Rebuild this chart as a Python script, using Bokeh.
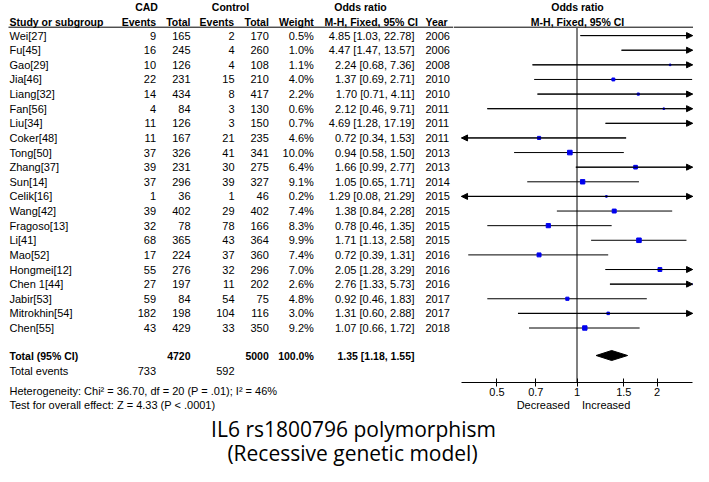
import math
from bokeh.plotting import figure
from bokeh.layouts import row, column
from bokeh.models import (Range1d, LogScale, LogAxis, FixedTicker, CustomJSTickFormatter,
                          ColumnDataSource, Arrow, NormalHead, Title)
from bokeh.core.properties import value
from bokeh.embed import file_html
from bokeh.resources import INLINE

# ---------------- data ----------------
studies = ["Wei[27]", "Fu[45]", "Gao[29]", "Jia[46]", "Liang[32]", "Fan[56]", "Liu[34]",
           "Coker[48]", "Tong[50]", "Zhang[37]", "Sun[14]", "Celik[16]", "Wang[42]",
           "Fragoso[13]", "Li[41]", "Mao[52]", "Hongmei[12]", "Chen 1[44]", "Jabir[53]",
           "Mitrokhin[54]", "Chen[55]"]
cad_events = [9, 16, 10, 22, 14, 4, 11, 11, 37, 39, 37, 1, 39, 32, 68, 17, 55, 27, 59, 182, 43]
cad_total = [165, 245, 126, 231, 434, 84, 126, 167, 326, 231, 296, 36, 402, 78, 365, 224, 276, 197, 84, 198, 429]
ctrl_events = [2, 4, 4, 15, 8, 3, 3, 21, 41, 30, 39, 1, 29, 78, 43, 37, 32, 11, 54, 104, 33]
ctrl_total = [170, 260, 108, 210, 417, 130, 150, 235, 341, 275, 327, 46, 402, 166, 364, 360, 296, 202, 75, 116, 350]
weights = [0.5, 1.0, 1.1, 4.0, 2.2, 0.6, 0.7, 4.6, 10.0, 6.4, 9.1, 0.2, 7.4, 8.3, 9.9, 7.4, 7.0, 2.6, 4.8, 3.0, 9.2]
odds = [4.85, 4.47, 2.24, 1.37, 1.70, 2.12, 4.69, 0.72, 0.94, 1.66, 1.05, 1.29, 1.38, 0.78, 1.71, 0.72, 2.05, 2.76, 0.92, 1.31, 1.07]
ci_low = [1.03, 1.47, 0.68, 0.69, 0.71, 0.46, 1.28, 0.34, 0.58, 0.99, 0.65, 0.08, 0.84, 0.46, 1.13, 0.39, 1.28, 1.33, 0.46, 0.60, 0.66]
ci_high = [22.78, 13.57, 7.36, 2.71, 4.11, 9.71, 17.19, 1.53, 1.50, 2.77, 1.71, 21.29, 2.28, 1.35, 2.58, 1.31, 3.29, 5.73, 1.83, 2.88, 1.72]
years = [2006, 2006, 2008, 2010, 2010, 2011, 2011, 2011, 2013, 2013, 2014, 2015, 2015, 2015, 2015, 2016, 2016, 2016, 2017, 2017, 2018]

total_cad, total_ctrl = 4720, 5000
total_events_cad, total_events_ctrl = 733, 592
pooled_or, pooled_low, pooled_high = 1.35, 1.18, 1.55
tick_values = [0.5, 0.7, 1, 1.5, 2]
axis_low, axis_high = 0.368, 2.72

heterogeneity = "Heterogeneity: Chi\u00b2 = 36.70, df = 20 (P = .01); I\u00b2 = 46%"
overall = "Test for overall effect: Z = 4.33 (P < .0001)"
title1 = "IL6 rs1800796 polymorphism"
title2 = "(Recessive genetic model)"
effect_label = "Decreased \u00a0\u00a0\u00a0Increased"

# ---------------- layout ----------------
FONT = "Liberation Sans"
W = 693
X_SPLIT = 453            # table | forest boundary (pixel columns)
Y_AXIS = 382             # frame bottom
AXIS_PANEL = 33
TOP_H = Y_AXIS + AXIS_PANEL
TITLE_H = 466 - TOP_H
X_NULL, PX_PER_LN = 576.5, 115.5
or_start = math.exp((X_SPLIT - X_NULL) / PX_PER_LN)
or_end = math.exp((W - X_NULL) / PX_PER_LN)

ROW0, ROW_H = 35.1, 14.62
ys = [ROW0 + i * ROW_H for i in range(len(studies))]
Y_HEAD1, Y_HEAD2, Y_RULE = 6.7, 21.7, 26.7
Y_TOTAL, Y_EVENTS = 355.0, 370.7


def make_fig(w, h, xr, yr, bottom=0):
    return figure(width=w, height=h, x_range=xr, y_range=yr, x_axis_type=None, y_axis_type=None,
                  toolbar_location=None, output_backend="svg", min_border_left=0,
                  min_border_right=0, min_border_top=0, min_border_bottom=bottom,
                  outline_line_color=None, background_fill_color="white",
                  border_fill_color="white")


def texts(f, xs, yy, tt, align="left", bold=False, size="11px", font=FONT):
    f.text(x=xs, y=yy, text=tt, text_align=align, text_baseline="middle",
           text_font=value(font), text_font_size=size,
           text_font_style="bold" if bold else "normal", text_color="black")


n = len(studies)

# ---- left: table ----
L = make_fig(X_SPLIT, TOP_H, Range1d(0, X_SPLIT), Range1d(Y_AXIS, 0), bottom=AXIS_PANEL)
texts(L, [146, 230, 360], [Y_HEAD1] * 3, ["CAD", "Control", "Odds ratio"], "center", True, "10.5px")
texts(L, [9], [Y_HEAD2], ["Study or subgroup"], "left", True, "10.5px")
texts(L, [155.7, 190, 233.5, 268.3, 313.3], [Y_HEAD2] * 5,
      ["Events", "Total", "Events", "Total", "Weight"], "right", True, "10.5px")
texts(L, [370.7], [Y_HEAD2], ["M-H, Fixed, 95% CI"], "center", True, "10.5px")
texts(L, [425], [Y_HEAD2], ["Year"], "left", True, "10.5px")
L.segment(x0=[8], x1=[X_SPLIT], y0=[Y_RULE], y1=[Y_RULE], line_color="black", line_width=1)

texts(L, [9] * n, ys, studies, "left")
texts(L, [155.5] * n, ys, [str(v) for v in cad_events], "right")
texts(L, [190] * n, ys, [str(v) for v in cad_total], "right")
texts(L, [234] * n, ys, [str(v) for v in ctrl_events], "right")
texts(L, [268.3] * n, ys, [str(v) for v in ctrl_total], "right")
texts(L, [313.3] * n, ys, [f"{w:.1f}%" for w in weights], "right")
texts(L, [414] * n, ys, [f"{o:.2f} [{l:.2f}, {h:.2f}]" for o, l, h in zip(odds, ci_low, ci_high)], "right")
texts(L, [425] * n, ys, [str(y) for y in years], "left")

texts(L, [9], [Y_TOTAL], ["Total (95% CI)"], "left", True, "10.5px")
texts(L, [190, 268.3, 313.3, 414], [Y_TOTAL] * 4,
      [str(total_cad), str(total_ctrl), "100.0%",
       f"{pooled_or:.2f} [{pooled_low:.2f}, {pooled_high:.2f}]"], "right", True, "10.5px")
texts(L, [9], [Y_EVENTS], ["Total events"], "left")
texts(L, [155.5, 234], [Y_EVENTS] * 2, [str(total_events_cad), str(total_events_ctrl)], "right")
for t in (heterogeneity, overall):
    L.add_layout(Title(text=t, align="left", offset=9, standoff=0, text_font=FONT,
                       text_font_size="11px", text_font_style="normal",
                       text_color="black"), "below")

# ---- right: forest ----
R = make_fig(W - X_SPLIT, TOP_H, Range1d(X_SPLIT, W), Range1d(Y_AXIS, 0), bottom=AXIS_PANEL)
R.extra_x_ranges = {"or": Range1d(or_start, or_end)}
R.extra_x_scales = {"or": LogScale()}
texts(R, [577], [Y_HEAD1], ["Odds ratio"], "center", True, "10.5px")
texts(R, [577], [Y_HEAD2], ["M-H, Fixed, 95% CI"], "center", True, "10.5px")
R.segment(x0=[X_SPLIT], x1=[W], y0=[Y_RULE], y1=[Y_RULE], line_color="black", line_width=1)

R.segment(x0=[1], x1=[1], y0=[Y_RULE], y1=[Y_AXIS], x_range_name="or",
          line_color="#555555", line_width=1.5)

lo_c = [max(l, axis_low) for l in ci_low]
hi_c = [min(h, axis_high) for h in ci_high]
src = ColumnDataSource(dict(y=ys, lo=lo_c, hi=hi_c, odds=odds,
                            sz=[max(1.6, 1.45 * math.sqrt(w)) for w in weights]))
R.segment(x0="lo", x1="hi", y0="y", y1="y", source=src, x_range_name="or",
          line_color="black", line_width=1)

right_i = [i for i in range(n) if ci_high[i] > axis_high]
left_i = [i for i in range(n) if ci_low[i] < axis_low]
rsrc = ColumnDataSource(dict(y=[ys[i] for i in right_i], xs=[lo_c[i] for i in right_i],
                             xe=[hi_c[i] for i in right_i]))
lsrc = ColumnDataSource(dict(y=[ys[i] for i in left_i], xs=[hi_c[i] for i in left_i],
                             xe=[lo_c[i] for i in left_i]))
for s in (rsrc, lsrc):
    R.add_layout(Arrow(x_start="xs", y_start="y", x_end="xe", y_end="y", source=s,
                       x_range_name="or", line_color="black", line_width=1,
                       end=NormalHead(size=6, fill_color="black", line_color="black")))

R.scatter(x="odds", y="y", size="sz", marker="square", source=src, x_range_name="or",
          fill_color="#0000ee", line_color="#0000ee")

R.patch(x=[pooled_low, pooled_or, pooled_high, pooled_or],
        y=[Y_TOTAL, Y_TOTAL - 5, Y_TOTAL, Y_TOTAL + 5],
        x_range_name="or", fill_color="black", line_color="black")

ax = LogAxis(x_range_name="or", ticker=FixedTicker(ticks=tick_values),
             formatter=CustomJSTickFormatter(code="return tick.toString();"),
             bounds=(axis_low, axis_high), major_tick_in=4, major_tick_out=4,
             minor_tick_in=0, minor_tick_out=0, major_label_standoff=1,
             major_label_text_font=FONT, major_label_text_font_size="11px",
             major_label_text_color="black", axis_line_color="black",
             major_tick_line_color="black",
             axis_label=effect_label, axis_label_standoff=0,
             axis_label_text_font=FONT, axis_label_text_font_size="11px",
             axis_label_text_font_style="normal", axis_label_text_color="black")
R.add_layout(ax, "below")

# ---- bottom: title ----
T = make_fig(W, TITLE_H, Range1d(0, W), Range1d(466, TOP_H))
texts(T, [353, 352], [428, 452], [title1, title2], "center", False, "21px", "Open Sans")

layout = column(row(L, R, spacing=0), T, spacing=0)
open("out.html", "w").write(file_html(layout, INLINE))
